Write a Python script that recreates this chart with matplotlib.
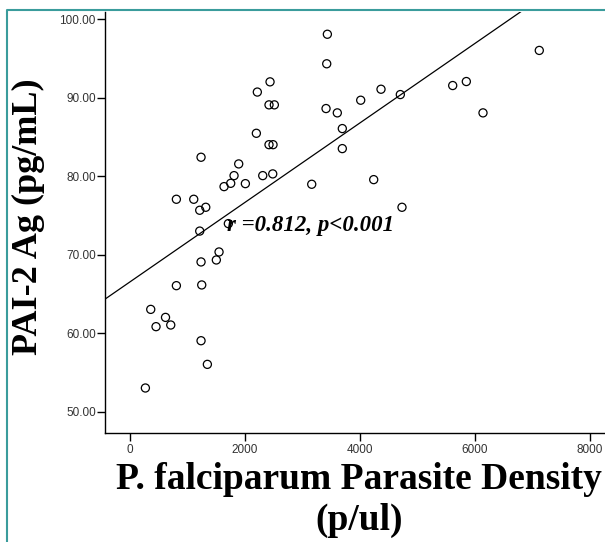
import numpy as np
import matplotlib.pyplot as plt
from matplotlib.lines import Line2D

# Parasite density (p/ul) and PAI-2 Ag (pg/mL)
density = [3432, 3421, 2435, 2214, 2417, 2510, 3409, 3605, 3692, 3692,
           2197, 2417, 2487, 1235, 1890, 1809, 2308, 2482, 1635, 1751,
           2006, 3160, 806, 1108, 1212, 1317,
           7118, 4365, 4012, 4701, 5612, 5849, 6139, 4238, 4730,
           1710, 1212, 1548, 1501, 1235, 806, 1247, 360, 617, 452,
           708, 1235, 1345, 267]
pai2 = [98.06, 94.3, 92.0, 90.7, 89.07, 89.07, 88.6, 88.05, 86.05, 83.5,
        85.45, 84.0, 84.0, 82.4, 81.55, 80.06, 80.06, 80.28, 78.66, 79.08,
        79.04, 78.96, 77.05, 77.05, 75.65, 76.03,
        96.0, 91.06, 89.66, 90.38, 91.53, 92.04, 88.05, 79.55, 76.03,
        73.95, 73.0, 70.34, 69.32, 69.07, 66.05, 66.14, 63.03, 62.01, 60.83,
        61.04, 59.04, 56.03, 53.02]

x_ticks = [0, 2000, 4000, 6000, 8000]
y_ticks = [50, 60, 70, 80, 90, 100]
annot = 'r =0.812, p<0.001'

fig = plt.figure(figsize=(6.05, 5.42), dpi=100)
ax = fig.add_axes([0.1736, 0.2011, 0.8264, 0.7773])

ax.scatter(density, pai2, s=34, facecolors='none', edgecolors='black',
           linewidths=0.9, zorder=3)

# linear fit line
xlim = (-435, 8261)
ylim = (47.29, 100.93)
slope, intercept = np.polyfit(density, pai2, 1)
xs = np.array(xlim)
ax.plot(xs, intercept + slope * xs, color='black', lw=0.9)

ax.text(1687, 73.0, annot, fontfamily='Liberation Serif', fontweight='bold',
        fontstyle='italic', fontsize=16.5, va='baseline', ha='left')

ax.set_xlim(xlim)
ax.set_ylim(ylim)
ax.set_xticks(x_ticks)
ax.set_xticklabels([str(v) for v in x_ticks], fontfamily='Liberation Sans',
                   fontsize=8.5, color='#333333')
ax.set_yticks(y_ticks)
ax.set_yticklabels(['%.2f' % v for v in y_ticks], fontfamily='Liberation Sans',
                   fontsize=8.5, color='#333333')
ax.tick_params(axis='both', length=5.8, width=1, color='black')
ax.tick_params(axis='y', pad=0.8)
ax.tick_params(axis='x', pad=2)

for side in ['top', 'right']:
    ax.spines[side].set_visible(False)
for side in ['left', 'bottom']:
    ax.spines[side].set_linewidth(1)

ax.set_xlabel('P. falciparum Parasite Density\n(p/ul)', fontfamily='Liberation Serif',
              fontweight='bold', fontsize=27, linespacing=1.22)
ax.xaxis.set_label_coords(0.508, -0.069)
ax.xaxis.label.set_va('top')
ax.set_ylabel('PAI-2 Ag (pg/mL)', fontfamily='Liberation Serif',
              fontweight='bold', fontsize=26)
ax.yaxis.set_label_coords(-0.12, 0.513)

# teal frame on the left and top
fig.add_artist(Line2D([7 / 605, 7 / 605, 1.0], [0.0, 1 - 10 / 542, 1 - 10 / 542],
                      transform=fig.transFigure, color='#3a9c9c', lw=1.5))

fig.savefig('out.png', dpi=100)
